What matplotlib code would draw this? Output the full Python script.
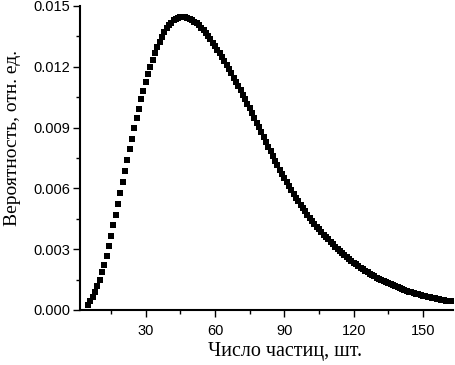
import matplotlib
matplotlib.use("Agg")
import matplotlib.pyplot as plt
import numpy as np
from matplotlib.ticker import MultipleLocator

# particle count (one point per integer)
n_start = 5
prob = [
    0.00025, 0.00042, 0.00065, 0.00090, 0.00118, 0.00150, 0.00185, 0.00224, 0.00266, 0.00314,  # 5-14
    0.00366, 0.00417, 0.00470, 0.00525, 0.00579, 0.00632, 0.00686, 0.00740, 0.00793, 0.00845,  # 15-24
    0.00896, 0.00945, 0.00993, 0.01039, 0.01082, 0.01123, 0.01162, 0.01199, 0.01234, 0.01267,  # 25-34
    0.01297, 0.01324, 0.01348, 0.01370, 0.01389, 0.01405, 0.01418, 0.01429, 0.01437, 0.01442,  # 35-44
    0.01445, 0.01446, 0.01445, 0.01442, 0.01437, 0.01431, 0.01423, 0.01414, 0.01404, 0.01393,  # 45-54
    0.01380, 0.01366, 0.01351, 0.01336, 0.01319, 0.01302, 0.01285, 0.01267, 0.01248, 0.01229,  # 55-64
    0.01209, 0.01189, 0.01168, 0.01147, 0.01126, 0.01105, 0.01083, 0.01061, 0.01039, 0.01017,  # 65-74
    0.00995, 0.00972, 0.00949, 0.00925, 0.00901, 0.00877, 0.00853, 0.00829, 0.00805, 0.00782,  # 75-84
    0.00759, 0.00736, 0.00714, 0.00692, 0.00671, 0.00650, 0.00630, 0.00610, 0.00591, 0.00572,  # 85-94
    0.00554, 0.00536, 0.00519, 0.00502, 0.00486, 0.00470, 0.00455, 0.00440, 0.00425, 0.00411,  # 95-104
    0.00398, 0.00385, 0.00372, 0.00360, 0.00348, 0.00336, 0.00325, 0.00313, 0.00302, 0.00292,  # 105-114
    0.00281, 0.00271, 0.00262, 0.00252, 0.00243, 0.00234, 0.00226, 0.00217, 0.00209, 0.00201,  # 115-124
    0.00194, 0.00187, 0.00180, 0.00173, 0.00166, 0.00160, 0.00154, 0.00148, 0.00142, 0.00137,  # 125-134
    0.00131, 0.00126, 0.00121, 0.00116, 0.00112, 0.00107, 0.00103, 0.00099, 0.00095, 0.00091,  # 135-144
    0.00087, 0.00084, 0.00080, 0.00077, 0.00074, 0.00071, 0.00068, 0.00065, 0.00062, 0.00060,  # 145-154
    0.00057, 0.00055, 0.00053, 0.00050, 0.00048, 0.00046, 0.00044, 0.00042,  # 155-162
]
count = np.arange(n_start, n_start + len(prob))

x_label = "Число частиц, шт."
y_label = "Вероятность, отн. ед."

fig = plt.figure(figsize=(4.56, 3.65), dpi=100)
ax = fig.add_axes([0.1754, 0.1507, 0.818, 0.833])

ax.plot(count, prob, "s", color="black", markersize=4.3, markeredgewidth=0)

ax.set_xlim(1.5, 163)
ax.set_ylim(0, 0.015)
ax.xaxis.set_major_locator(MultipleLocator(30))
ax.xaxis.set_minor_locator(MultipleLocator(15))
ax.yaxis.set_major_locator(MultipleLocator(0.003))
ax.yaxis.set_minor_locator(MultipleLocator(0.0015))
ax.yaxis.set_major_formatter(plt.FormatStrFormatter("%.3f"))

for side in ["top", "right"]:
    ax.spines[side].set_visible(False)
for side in ["left", "bottom"]:
    ax.spines[side].set_linewidth(1.5)

ax.tick_params(which="major", direction="out", length=5, width=1, labelsize=10.5)
ax.tick_params(which="minor", direction="out", length=3, width=1)
ax.tick_params(axis="x", which="major", pad=5)
ax.tick_params(axis="y", which="major", pad=2)
for lbl in ax.get_xticklabels() + ax.get_yticklabels():
    lbl.set_family("Liberation Sans")

ax.set_xlabel(x_label, family="Liberation Serif", fontsize=14.5)
ax.set_ylabel(y_label, family="Liberation Serif", fontsize=14)
ax.xaxis.set_label_coords(0.55, -0.105)
ax.yaxis.set_label_coords(-0.158, 0.567)

fig.savefig("out.png", dpi=100)
